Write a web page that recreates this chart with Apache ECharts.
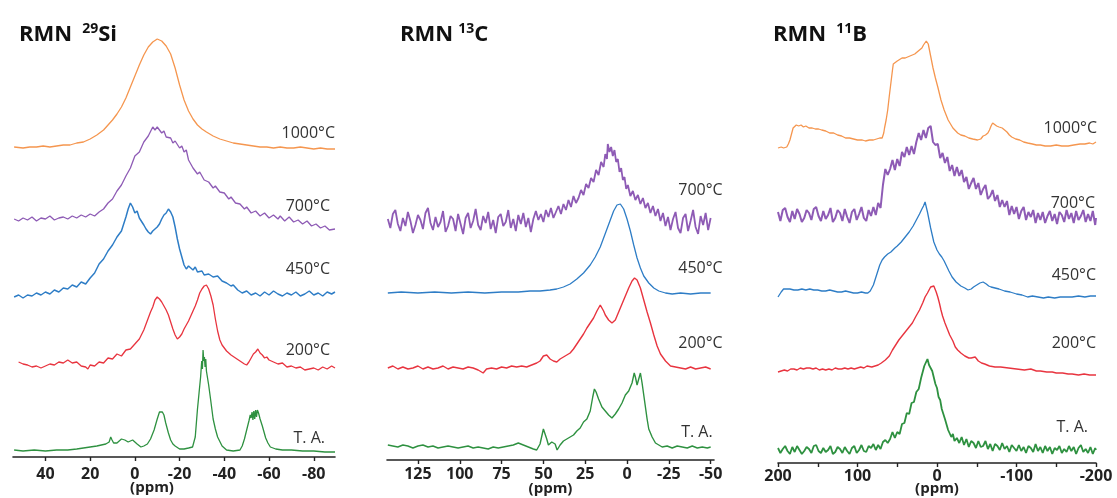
<!DOCTYPE html>
<html><head><meta charset="utf-8">
<script src="https://cdn.jsdelivr.net/npm/echarts@6/dist/echarts.min.js"></script>
<style>html,body{margin:0;padding:0;background:#fff}#c{width:1117px;height:498px}</style>
</head><body><div id="c"></div>
<script>
// ---------- tick labels ----------
const siTicks = [40, 20, 0, -20, -40, -60, -80];
const cTicks = [125, 100, 75, 50, 25, 0, -25, -50];
const bTicks = [200, 150, 100, 50, 0, -50, -100, -150, -200];
const bLabels = [200, 100, 0, -100, -200];

// ---------- spectrum labels ----------
const siNames = ['1000°C', '700°C', '450°C', '200°C', 'T. A.'];
const cNames = ['700°C', '450°C', '200°C', 'T. A.'];
const bNames = ['1000°C', '700°C', '450°C', '200°C', 'T. A.'];

// vertical stacking offsets (intensity units)
const siOffsets = [309, 239, 160, 94, 6];
const cOffsets = [238, 167, 92, 13];
const bOffsets = [315, 248, 171, 93, 13];

// ---------- 29Si spectra [ppm, intensity] ----------
const si1000 = [[54,1],[50,0],[47,1],[44,1],[41,2],[38,1],[35,2],[32,3],[29,3],[26,5],[23,6],[20,9],[17,13],[14,18],[12,23],[10,28],[8,34],[6,41],[4,50],[2,61],[0,72],[-2,83],[-4,93],[-6,101],[-8,106],[-10,109],[-12,107],[-14,102],[-16,94],[-18,80],[-20,63],[-22,48],[-24,37],[-26,29],[-28,23],[-30,19],[-32,16],[-35,12],[-38,9],[-41,7],[-44,5],[-47,4],[-50,3],[-53,2],[-56,1],[-59,1],[-62,0],[-65,1],[-68,0],[-71,0],[-74,1],[-77,0],[-80,-1],[-83,0],[-86,-1],[-89.5,-1]];
const si700 = [[54,-1],[52,-3],[50,0],[48,-2],[46,1],[44,-3],[42,0],[40,-1],[38,2],[36,-2],[34,0],[32,1],[30,-1],[28,2],[26,0],[24,3],[22,1],[20,4],[18,2],[16,6],[14,9],[12,15],[10,19],[8,27],[6,33],[4,42],[2,50],[0,62],[-2,66],[-4,76],[-6,82],[-8,91],[-9,88],[-10,91],[-12,85],[-13,87],[-14,81],[-16,80],[-17,75],[-18,77],[-20,70],[-21,72],[-22,66],[-23,68],[-24,58],[-26,50],[-28,44],[-29,46],[-31,38],[-33,36],[-35,30],[-36,32],[-38,26],[-40,25],[-42,19],[-43,21],[-45,15],[-47,14],[-49,9],[-50,11],[-52,5],[-54,7],[-56,2],[-58,5],[-60,0],[-62,3],[-64,-1],[-65,2],[-67,-3],[-69,1],[-71,-4],[-73,-2],[-75,-6],[-77,-3],[-79,-8],[-81,-6],[-83,-10],[-85,-8],[-87,-12],[-89.5,-11]];
const si450 = [[54,0],[52,2],[50,-1],[48,2],[46,1],[44,4],[42,2],[40,5],[38,3],[36,7],[34,5],[32,9],[30,8],[28,12],[26,10],[24,15],[22,13],[20,19],[18,24],[16,33],[14,38],[12,46],[10,52],[8,60],[6,66],[4,80],[3,88],[2,94],[1,90],[0,84],[-1,86],[-2,79],[-4,72],[-5,68],[-6,65],[-7,63],[-8,66],[-10,70],[-11,73],[-12,78],[-13,82],[-14,84],[-15,88],[-16,85],[-17,80],[-18,70],[-19,58],[-20,48],[-21,40],[-22,32],[-23,28],[-24,31],[-25,29],[-26,27],[-27,30],[-28,25],[-30,26],[-31,22],[-33,23],[-35,20],[-37,21],[-39,16],[-41,14],[-43,11],[-44,12],[-46,7],[-48,4],[-50,6],[-52,2],[-54,4],[-56,1],[-58,5],[-60,2],[-62,6],[-64,3],[-66,1],[-68,4],[-70,2],[-72,5],[-74,1],[-76,3],[-78,6],[-80,2],[-82,4],[-84,1],[-86,5],[-88,3],[-89.5,5]];
const si200 = [[52,1],[50,-1],[48,-2],[46,-4],[44,-3],[42,-5],[40,-3],[38,-1],[36,-2],[34,1],[32,0],[30,3],[28,0],[26,1],[24,-3],[22,-4],[21,-6],[20,-2],[18,-3],[16,1],[14,0],[12,5],[10,4],[8,9],[6,7],[4,13],[2,14],[0,19],[-2,24],[-4,33],[-6,45],[-7,51],[-8,56],[-9,63],[-10,66],[-11,64],[-12,61],[-13,57],[-14,53],[-15,48],[-16,41],[-17,34],[-18,28],[-19,24],[-20,26],[-21,29],[-22,34],[-23,38],[-24,42],[-25,47],[-26,52],[-27,57],[-28,63],[-29,70],[-30,74],[-31,77],[-32,78],[-33,74],[-34,67],[-35,58],[-36,44],[-37,32],[-38,23],[-39,18],[-41,12],[-43,8],[-45,5],[-47,2],[-49,-1],[-50,-2],[-51,1],[-52,5],[-53,9],[-54,11],[-55,14],[-56,10],[-57,8],[-58,5],[-59,6],[-60,3],[-62,1],[-64,-1],[-66,0],[-68,-4],[-70,-3],[-72,-5],[-74,-4],[-76,-7],[-78,-6],[-80,-5],[-82,-7],[-84,-4],[-86,-6],[-88,-3],[-89.5,-5]];
const siTA = [[54,1],[50,0],[45,1],[40,0],[35,1],[30,1],[26,2],[23,3],[20,4],[17,5],[15,6],[13,7],[11.5,9],[10.8,14],[10.2,11],[9.5,8],[8,8],[7,10],[6,12],[5.5,13],[4.5,11],[3,9],[2,10],[1,11],[0,9],[-1,7],[-2.7,4],[-4,5],[-5.6,7],[-7,12],[-8.6,21],[-10,32],[-11,39],[-11.6,41],[-12.3,39],[-13,36],[-13.8,28],[-15,18],[-16,11],[-17,7],[-18,5],[-20,2],[-22,2],[-24,3],[-25.8,4],[-27,14],[-28,42],[-28.7,58],[-29.4,74],[-29.9,90],[-30.2,82],[-30.5,101],[-30.8,90],[-31.1,94],[-31.4,84],[-31.7,92],[-32,80],[-33,66],[-33.9,51],[-35,32],[-36,22],[-37,14],[-39,5],[-41,1],[-44,0],[-47,1],[-48,5],[-49,12],[-50,21],[-51,30],[-51.6,36],[-52,33],[-52.4,39],[-52.8,31],[-53.2,40],[-53.6,32],[-54,41],[-54.4,34],[-54.8,41],[-55.3,38],[-56,32],[-57,25],[-57.5,21],[-58.5,13],[-59.5,8],[-60.6,4],[-63,2],[-66,1],[-70,1],[-75,0],[-80,0],[-85,-1],[-89.5,-1]];

// ---------- 13C spectra ----------
const c700 = [[143,3],[141.5,-6],[140,8],[138.5,12],[137,-2],[135.5,-9],[134,4],[132.5,-4],[131,10],[129.5,1],[128,-11],[126.5,-3],[125,7],[123.5,2],[122,-7],[120.5,9],[119,14],[117.5,-1],[116,-8],[114.5,5],[113,-5],[111.5,0],[110,11],[108.5,-10],[107,-4],[105.5,6],[104,3],[102.5,-9],[101,8],[99.5,-2],[98,-12],[96.5,4],[95,9],[93.5,-6],[92,1],[90.5,13],[89,-3],[87.5,-8],[86,6],[84.5,-1],[83,10],[81.5,-7],[80,2],[78.5,-11],[77,5],[75.5,8],[74,-4],[72.5,0],[71,12],[69.5,-6],[68,3],[66.5,-9],[65,7],[63.5,-2],[62,9],[60.5,-5],[59,4],[57.5,-10],[56,3],[54.5,11],[53,2],[51.5,8],[50,0],[48.5,12],[47,5],[45.5,14],[44,4],[42.5,10],[41,16],[39.5,8],[38,18],[36.5,12],[35,22],[33.5,15],[32,26],[30.5,19],[29,24],[27.5,32],[26,27],[24.5,38],[23,34],[21.5,44],[20,40],[18.5,52],[17,47],[15.5,60],[14,55],[13,68],[12,63],[11.5,78],[10.5,70],[9.5,75],[8.5,66],[7.5,72],[6.5,60],[5.5,63],[4.5,50],[3.5,54],[2.5,42],[1.5,45],[0.5,33],[-0.5,37],[-2,26],[-3.5,31],[-5,22],[-6.5,27],[-8,18],[-9.5,24],[-11,14],[-12.5,19],[-14,9],[-15.5,16],[-17,6],[-18.5,13],[-20,1],[-21.5,9],[-23,-4],[-24.5,5],[-26,-8],[-27.5,3],[-29,10],[-30.5,-6],[-32,-11],[-33.5,4],[-35,8],[-36.5,-9],[-38,1],[-39.5,12],[-41,-5],[-42.5,-12],[-44,6],[-45.5,-3],[-47,9],[-48.5,-8],[-50,4]];
const c450 = [[143,0],[135,1],[125,0],[115,1],[105,0],[95,1],[85,0],[75,1],[65,1],[58,2],[52,2],[46,3],[42,4],[38,6],[34,9],[30,14],[26,20],[22,28],[19,36],[16,46],[14,55],[12,64],[10,73],[8,82],[6,88],[5,90],[4,89],[2,84],[0,74],[-2,62],[-4,48],[-6,35],[-8,25],[-10,17],[-13,10],[-16,5],[-19,2],[-23,0],[-27,-1],[-32,0],[-38,-1],[-44,0],[-50,0]];
const c200 = [[143,0],[140,2],[137,-1],[134,1],[131,-1],[128,0],[125,2],[122,-1],[119,1],[116,-1],[113,0],[110,2],[107,-1],[104,1],[101,0],[98,-1],[95,1],[92,0],[89,-2],[86,-5],[84,-1],[81,0],[78,-1],[75,1],[72,0],[69,2],[66,1],[63,2],[60,1],[57,3],[54,5],[52,7],[50,12],[48,13],[46,9],[44,7],[42,6],[40,9],[38,11],[36,13],[34,15],[32,19],[30,24],[28,29],[26,34],[24,40],[22,45],[20,50],[18,57],[16,63],[15,62],[14,57],[13,53],[11,48],[9,45],[7,48],[5,56],[3,64],[1,72],[-1,80],[-3,87],[-4.5,90],[-6,88],[-8,80],[-10,68],[-12,56],[-14,45],[-16,33],[-18,22],[-20,14],[-23,7],[-26,2],[-29,1],[-32,0],[-35,-1],[-38,1],[-41,-1],[-44,0],[-47,1],[-50,-1]];
const cTA = [[143,2],[140,1],[137,0],[134,2],[131,1],[128,-1],[125,1],[122,2],[119,0],[116,1],[113,-1],[110,0],[107,1],[104,0],[101,-1],[98,0],[95,1],[92,-1],[89,0],[86,-1],[83,-2],[80,0],[77,-1],[74,0],[71,1],[68,2],[65,4],[62,2],[59,0],[56,-2],[54,-3],[52,3],[50,18],[49,20],[48,8],[47,2],[45,5],[43,3],[41.8,-3],[40,2],[38,6],[36,8],[34,10],[32,12],[30,16],[28,19],[26,25],[24,28],[22,36],[20.5,50],[19.5,58],[18.5,55],[17,48],[15,40],[13,36],[11,32],[9,29],[7,33],[5,38],[3,44],[1,52],[-1,56],[-3,64],[-4.3,74],[-5,70],[-6,62],[-7,68],[-8,74],[-9,64],[-10,52],[-11,40],[-12,28],[-13,18],[-15,10],[-17,4],[-19,2],[-21,0],[-24,1],[-27,-1],[-30,1],[-33,0],[-36,-1],[-39,1],[-42,-1],[-45,0],[-48,-1],[-50,0]];

// ---------- 11B spectra ----------
const b1000 = [[200,0],[196,1],[193,0],[189,1],[187,4],[185,8],[183,14],[181,20],[179,22],[177,23],[174,22],[171,23],[168,21],[165,22],[161,20],[157,20],[153,19],[149,19],[145,18],[140,17],[135,15],[130,15],[125,13],[120,12],[115,10],[110,10],[105,9],[100,8],[94,8],[90,7],[85,8],[80,8],[76,9],[72,10],[69,10],[67,15],[66,20],[64,28],[62,38],[60,52],[58,65],[56,78],[55,84],[53,86],[50,87],[48,89],[44,90],[40,90],[38,91],[34,92],[31,93],[28,94],[25,96],[22,98],[19,100],[17,103],[15,105],[13.5,107],[12.6,109],[11,104],[10,100],[8,92],[5,80],[2,70],[-1,61],[-5,48],[-9,38],[-14,28],[-20,20],[-26,15],[-30,13],[-35,12],[-40,10],[-45,9],[-51,8],[-55,9],[-58,12],[-61,13],[-64,15],[-66,18],[-68,22],[-70,25],[-72,24],[-75,22],[-78,21],[-82,20],[-85,18],[-88,16],[-91,13],[-94,11],[-99,9],[-104,8],[-109,6],[-114,5],[-120,4],[-125,3],[-130,3],[-136,2],[-143,2],[-150,3],[-157,2],[-165,2],[-172,3],[-180,4],[-186,4],[-192,5],[-196,4],[-200,6]];
const b700 = [[200,3],[197,-6],[194,5],[191,7],[188,-2],[185,-7],[182,4],[179,-4],[176,6],[173,1],[170,-7],[167,-3],[164,5],[161,2],[158,-5],[155,6],[152,8],[149,-1],[146,-6],[143,4],[140,-4],[137,0],[134,7],[131,-7],[128,-3],[125,5],[122,2],[119,-6],[116,6],[113,-2],[110,-8],[107,3],[104,6],[101,-5],[98,1],[95,8],[92,-3],[89,-6],[86,5],[83,-1],[80,8],[77,0],[74,12],[71,7],[68,30],[65,46],[62,40],[59,46],[56,55],[53,45],[50,56],[47,49],[44,63],[41,58],[38,68],[35,60],[32,69],[29,61],[26,73],[23,82],[20,75],[17,85],[14,77],[11,87],[8,89],[5,73],[2,70],[-1,71],[-4,57],[-7,62],[-10,52],[-13,58],[-16,44],[-19,50],[-22,39],[-25,48],[-28,39],[-31,45],[-34,33],[-37,38],[-40,26],[-43,32],[-46,37],[-49,26],[-52,32],[-55,20],[-58,26],[-61,30],[-64,16],[-67,19],[-70,25],[-73,14],[-76,20],[-79,8],[-82,15],[-85,8],[-88,14],[-91,0],[-94,9],[-97,1],[-100,8],[-103,-4],[-106,4],[-109,8],[-112,-5],[-115,3],[-118,-2],[-121,5],[-124,-8],[-127,2],[-130,-5],[-133,3],[-136,-8],[-139,-1],[-142,4],[-145,-6],[-148,1],[-151,-9],[-154,3],[-157,0],[-160,-7],[-163,5],[-166,-4],[-169,2],[-172,-8],[-175,4],[-178,-5],[-181,-1],[-184,5],[-187,-7],[-190,1],[-193,-6],[-196,4],[-199,-10],[-200,-3]];
const b450 = [[200,-5],[198,-3],[196,0],[193,3],[191,4],[188,3],[185,3],[180,2],[175,2],[170,3],[165,2],[160,3],[155,2],[150,2],[145,1],[140,1],[135,2],[130,1],[125,0],[120,0],[115,1],[110,0],[105,-1],[100,-1],[95,0],[90,-1],[87,-1],[84,1],[82,3],[80,7],[78,12],[76,17],[74,22],[72,27],[69,32],[66,35],[62,38],[58,40],[56,42],[53,44],[50,46],[45,50],[40,55],[35,60],[30,66],[26,72],[22,78],[19,83],[17,86],[15,90],[14,88],[12,80],[10,72],[8,64],[6,57],[4,50],[2,46],[0,42],[-3,38],[-6,35],[-9,31],[-12,26],[-15,21],[-19,15],[-24,10],[-30,6],[-35,4],[-39,2],[-43,3],[-46,5],[-50,7],[-54,9],[-58,10],[-60,9],[-62,8],[-65,6],[-68,5],[-73,4],[-78,3],[-85,1],[-92,0],[-100,-2],[-107,-3],[-114,-5],[-120,-4],[-127,-5],[-134,-6],[-140,-5],[-148,-6],[-155,-5],[-162,-5],[-170,-5],[-178,-4],[-186,-5],[-193,-4],[-200,-4]];
const b200 = [[200,-2],[196,-1],[192,0],[188,-1],[184,1],[180,1],[176,0],[172,2],[168,1],[164,2],[160,2],[156,1],[152,2],[148,0],[144,1],[140,0],[136,1],[132,0],[128,2],[124,1],[120,1],[116,2],[112,1],[108,2],[104,1],[100,2],[96,3],[92,2],[88,4],[86,4],[82,3],[78,4],[74,5],[70,7],[65,10],[60,14],[56,20],[52,25],[48,30],[45,33],[40,38],[36,42],[31,47],[27,53],[22,60],[18,67],[15,73],[12,77],[10,80],[8,83],[6,85],[4,84],[3,82],[1,78],[-1,73],[-3,67],[-5,60],[-7,54],[-10,47],[-13,41],[-16,35],[-20,29],[-23,23],[-26,20],[-30,17],[-35,14],[-40,12],[-43,12],[-45,13],[-48,13],[-50,11],[-52,9],[-56,7],[-60,6],[-66,4],[-73,3],[-80,3],[-90,2],[-100,1],[-110,0],[-118,1],[-125,-1],[-130,-1],[-138,-2],[-145,-2],[-150,-3],[-158,-3],[-165,-4],[-170,-4],[-178,-5],[-185,-4],[-192,-5],[-200,-5]];
const bTA = [[200,2],[197,-3],[194,1],[191,4],[188,-1],[185,-4],[182,3],[179,-2],[176,4],[173,0],[170,-4],[167,-1],[164,3],[161,1],[158,-3],[155,4],[152,5],[149,-1],[146,-3],[143,2],[140,-2],[137,0],[134,4],[131,-4],[128,-2],[125,3],[122,1],[119,-3],[116,3],[113,-1],[110,-4],[107,2],[104,4],[101,-3],[98,0],[95,5],[92,-1],[89,-2],[86,4],[83,2],[80,6],[77,0],[74,5],[71,1],[68,8],[65,10],[62,7],[59,11],[56,18],[53,12],[50,18],[47,16],[44,26],[41,27],[38,37],[35,36],[32,47],[29,48],[26,58],[23,61],[20,72],[18,73],[16,84],[14,85],[12,91],[10,85],[8,87],[6,79],[4,79],[2,66],[0,62],[-2,53],[-4,50],[-6,41],[-8,40],[-10,31],[-12,30],[-14,20],[-16,21],[-18,13],[-20,16],[-22,9],[-25,12],[-28,7],[-31,13],[-34,5],[-37,11],[-40,3],[-43,9],[-46,7],[-49,2],[-52,9],[-55,3],[-58,4],[-61,9],[-64,1],[-67,6],[-70,-1],[-73,6],[-76,4],[-79,0],[-82,7],[-85,1],[-88,4],[-91,-2],[-94,5],[-97,2],[-100,-1],[-103,5],[-106,-1],[-109,3],[-112,-3],[-115,4],[-118,2],[-121,-2],[-124,6],[-127,-1],[-130,3],[-133,-3],[-136,4],[-139,-1],[-142,3],[-145,-4],[-148,2],[-151,0],[-154,4],[-157,-3],[-160,1],[-163,-2],[-166,4],[-169,-1],[-172,3],[-175,-4],[-178,2],[-181,5],[-184,-2],[-187,1],[-190,-3],[-193,3],[-196,-4],[-199,2],[-200,0]];

// ---------- styling ----------
const COLORS = {o:'#F5964F', p:'#8E5BB5', b:'#2E7DC6', r:'#E8343F', g:'#2E9140'};
const FONT = 'Open Sans';

const chart = echarts.init(document.getElementById('c'), null, {renderer:'canvas'});

function mk(gi, name, data, offset, color, lw, off) {
  return {
    type:'line', name: name, xAxisIndex: gi, yAxisIndex: gi,
    data: data.map(d => [d[0], d[1] + offset]),
    symbol:'none', showSymbol:false, silent:true, animation:false,
    lineStyle:{color: color, width: lw}, itemStyle:{color: color},
    endLabel:{show:true, formatter: name, align:'right', verticalAlign:'middle', distance:0,
      offset: off, color:'#333', fontSize:16, fontFamily: FONT}
  };
}

function xAx(gi, min, max, ticks, labels, margin, nameGap, namePad) {
  return {
    type:'value', gridIndex: gi, min: min, max: max, inverse: true,
    axisLine:{show:true, lineStyle:{color:'#222', width:1.6}},
    axisTick:{show:true, length:4, inside:false, customValues: ticks, lineStyle:{color:'#222', width:1.4}},
    axisLabel:{show:true, customValues: labels, margin: margin, color:'#222', fontSize:16, fontWeight:'bold', fontFamily: FONT},
    splitLine:{show:false},
    name:'(ppm)', nameLocation:'middle', nameGap: nameGap, nameMoveOverlap: false,
    nameTextStyle:{color:'#222', fontSize:15, fontWeight:'bold', fontFamily: FONT, padding: namePad}
  };
}
function yAx(gi, max) {
  return {type:'value', gridIndex: gi, min:0, max: max, show:false, splitLine:{show:false}};
}

function titleRich() {
  return {
    b:{fontSize:22, fontWeight:'bold', fontFamily: FONT, color:'#111'},
    s:{fontSize:14, fontWeight:'bold', fontFamily: FONT, color:'#111', padding:[0,0,11,0]}
  };
}

const option = {
  animation:false,
  backgroundColor:'#ffffff',
  title:[
    {text:'{b|RMN}  {s|29}{b|Si}', left:14, top:17, textStyle:{rich: titleRich()}},
    {text:'{b|RMN} {s|13}{b|C}', left:395, top:17, textStyle:{rich: titleRich()}},
    {text:'{b|RMN}  {s|11}{b|B}', left:768, top:17, textStyle:{rich: titleRich()}}
  ],
  grid:[
    {left:13, width:322, top:20, height:437, outerBoundsMode:'none', containLabel:false},
    {left:387, width:327, top:20, height:440, outerBoundsMode:'none', containLabel:false},
    {left:778, width:318, top:20, height:443, outerBoundsMode:'none', containLabel:false}
  ],
  xAxis:[
    xAx(0, -89.5, 54.5, siTicks, siTicks, 9, 23, [0,44,0,0]),
    xAx(1, -52, 143.5, cTicks, cTicks, 6, 21, [0,0,0,0]),
    xAx(2, -200, 200, bTicks, bLabels, 5, 18, [0,0,0,0])
  ],
  yAxis:[ yAx(0, 437), yAx(1, 440), yAx(2, 443) ],
  series:[
    mk(0, siNames[0], si1000, siOffsets[0], COLORS.o, 1.3, [0,-16]),
    mk(0, siNames[1], si700, siOffsets[1], COLORS.p, 1.3, [-5,-23]),
    mk(0, siNames[2], si450, siOffsets[2], COLORS.b, 1.5, [-5,-23]),
    mk(0, siNames[3], si200, siOffsets[3], COLORS.r, 1.3, [-5,-18]),
    mk(0, siNames[4], siTA, siOffsets[4], COLORS.g, 1.3, [-10,-14]),
    mk(1, cNames[0], c700, cOffsets[0], COLORS.p, 1.8, [12,-28]),
    mk(1, cNames[1], c450, cOffsets[1], COLORS.b, 1.3, [12,-25]),
    mk(1, cNames[2], c200, cOffsets[2], COLORS.r, 1.4, [12,-26]),
    mk(1, cNames[3], cTA, cOffsets[3], COLORS.g, 1.4, [2,-15]),
    mk(2, bNames[0], b1000, bOffsets[0], COLORS.o, 1.3, [1,-14]),
    mk(2, bNames[1], b700, bOffsets[1], COLORS.p, 2.0, [-1,-15]),
    mk(2, bNames[2], b450, bOffsets[2], COLORS.b, 1.3, [0,-21]),
    mk(2, bNames[3], b200, bOffsets[3], COLORS.r, 1.4, [0,-32]),
    mk(2, bNames[4], bTA, bOffsets[4], COLORS.g, 1.8, [-8,-23])
  ]
};
chart.setOption(option);
</script></body></html>
